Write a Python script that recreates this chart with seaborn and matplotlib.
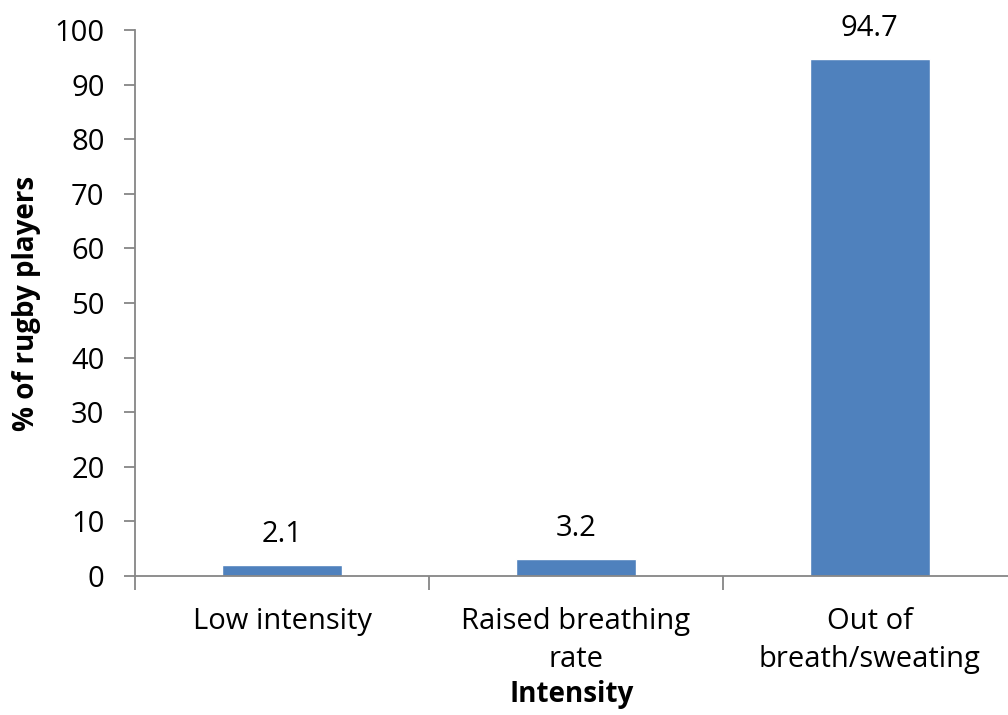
import seaborn as sns
import matplotlib.pyplot as plt
import pandas as pd

categories = ['Low intensity', 'Raised breathing\nrate', 'Out of\nbreath/sweating']
percentages = [2.1, 3.2, 94.7]

sns.set_theme(style='white')
plt.rcParams['font.family'] = ['Open Sans', 'DejaVu Sans']

df = pd.DataFrame({'Intensity': categories, 'pct': percentages})

fig = plt.figure(figsize=(10.08, 7.15), dpi=100)
ax = fig.add_axes([0.134, 0.1944, 0.866, 0.7636])

sns.barplot(data=df, x='Intensity', y='pct', color='#4F81BD', saturation=1,
            width=0.41, ax=ax)

for i, v in enumerate(percentages):
    ax.text(i, v + 5.5, f'{v:.1f}', ha='center', va='center', fontsize=21, color='#000000')

ax.set_ylim(0, 100)
ax.set_xlim(-0.5, 2.47)
ax.set_yticks(range(0, 101, 10))
ax.set_xticks([-0.5, 0.5, 1.5], minor=True)
ax.set_xticks([0, 1, 2])
ax.set_xticklabels(categories, fontsize=21, linespacing=1.45)
ax.tick_params(axis='x', which='major', length=0, pad=22)
ax.tick_params(axis='x', which='minor', bottom=True, length=10, width=1.3, color='#868686')
ax.tick_params(axis='y', left=True, length=8, width=1.3, color='#868686', labelsize=21, pad=14)
for lbl in ax.get_yticklabels():
    lbl.set_color('#000000')
for lbl in ax.get_xticklabels():
    lbl.set_color('#000000')

for side in ['top', 'right']:
    ax.spines[side].set_visible(False)
for side in ['left', 'bottom']:
    ax.spines[side].set_color('#868686')
    ax.spines[side].set_linewidth(1.3)

ax.set_ylabel('% of rugby players', fontsize=20, fontweight='bold', labelpad=10, color='#000000')
ax.set_xlabel('Intensity', fontsize=20, fontweight='bold', labelpad=4, color='#000000')

plt.savefig('out.png', dpi=100)
